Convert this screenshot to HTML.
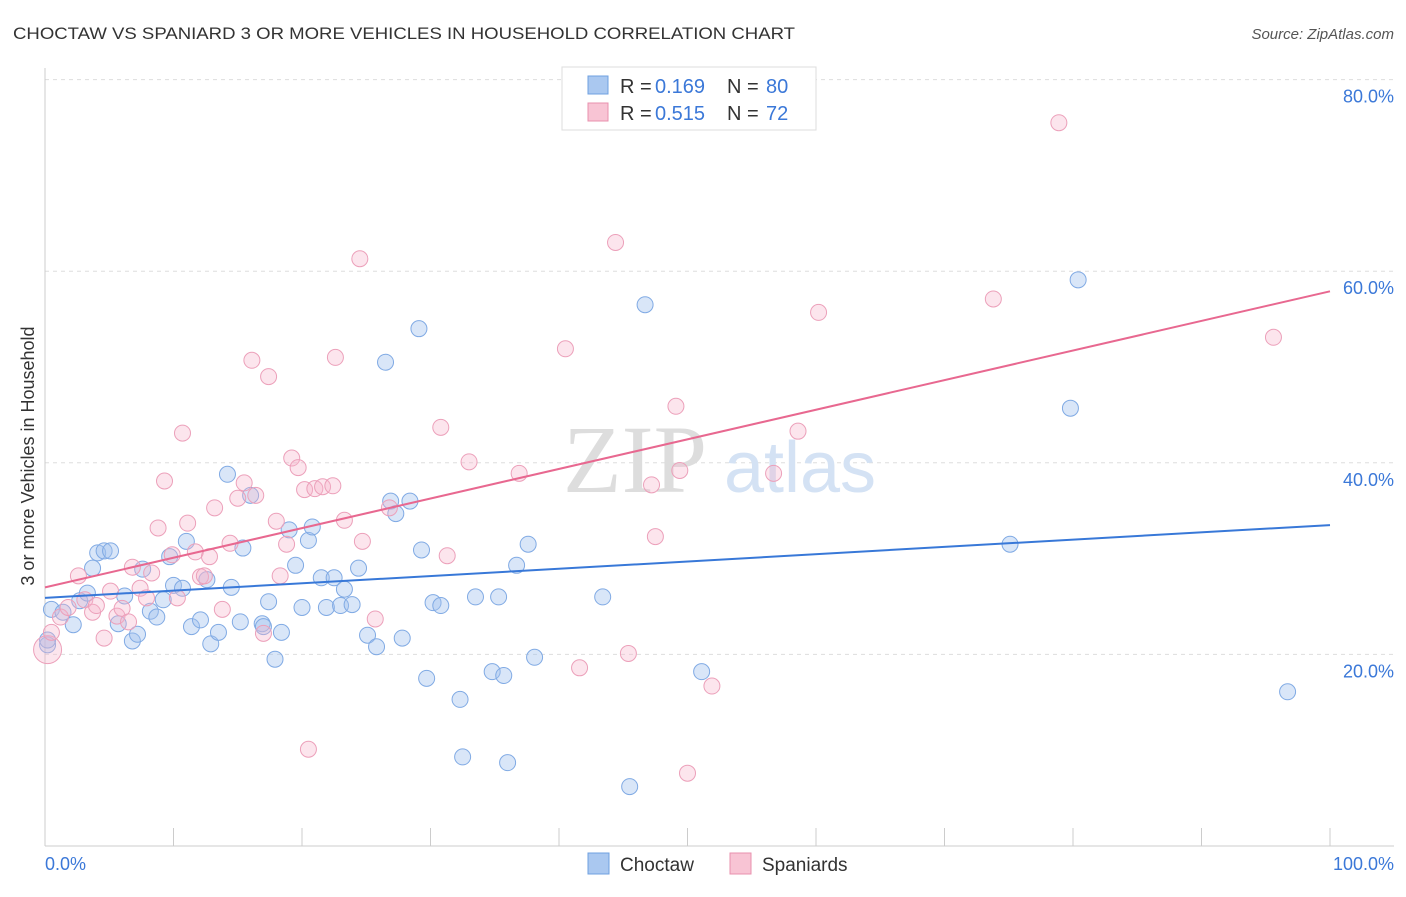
<!DOCTYPE html>
<html><head><meta charset="utf-8"><style>
body{margin:0;background:#fff;font-family:"Liberation Sans",sans-serif}
</style></head><body>
<svg width="1406" height="892" xmlns="http://www.w3.org/2000/svg">
<text x="13" y="39" font-size="17" fill="#333" textLength="782" lengthAdjust="spacingAndGlyphs">CHOCTAW VS SPANIARD 3 OR MORE VEHICLES IN HOUSEHOLD CORRELATION CHART</text>
<text x="1394" y="39" font-size="15" fill="#555" text-anchor="end" font-style="italic">Source: ZipAtlas.com</text>
<g id="grid"></g>
<text x="635" y="492" font-size="96" fill="#ddd" font-family="Liberation Serif" text-anchor="middle">ZIP</text>
<text x="800" y="492" font-size="72" fill="#d4e2f4" text-anchor="middle">atlas</text>
<g id="pts"></g>
<g id="lines"></g>
<text transform="translate(34,456) rotate(-90)" font-size="18" fill="#333" text-anchor="middle">3 or more Vehicles in Household</text>
<g>
<rect x="562" y="67" width="254" height="63" fill="#fff" stroke="#ddd"/>
<rect x="588" y="76" width="20" height="18" fill="#aac8f0" stroke="#6fa0e0"/>
<rect x="588" y="103" width="20" height="18" fill="#f8c4d4" stroke="#e890ae"/>
<text x="620" y="93" font-size="20" fill="#333">R =</text>
<text x="655" y="93" font-size="20" fill="#3b78d8">0.169</text>
<text x="727" y="93" font-size="20" fill="#333">N =</text>
<text x="766" y="93" font-size="20" fill="#3b78d8">80</text>
<text x="620" y="120" font-size="20" fill="#333">R =</text>
<text x="655" y="120" font-size="20" fill="#3b78d8">0.515</text>
<text x="727" y="120" font-size="20" fill="#333">N =</text>
<text x="766" y="120" font-size="20" fill="#3b78d8">72</text>
</g>
<g>
<rect x="588" y="853" width="21" height="21" fill="#aac8f0" stroke="#6fa0e0"/>
<text x="620" y="871" font-size="19" fill="#333">Choctaw</text>
<rect x="730" y="853" width="21" height="21" fill="#f8c4d4" stroke="#e890ae"/>
<text x="762" y="871" font-size="19" fill="#333">Spaniards</text>
</g>
<text x="45" y="870" font-size="18" fill="#3b78d8">0.0%</text>
<text x="1394" y="870" font-size="18" fill="#3b78d8" text-anchor="end">100.0%</text>
</svg>
<script>
const yTicks=[20,40,60,80];
const yTickLabels=["20.0%","40.0%","60.0%","80.0%"];
const xTicks=[0,10,20,30,40,50,60,70,80,90,100];
const choctawX=[0.5,1.4,2.2,2.7,3.3,3.7,4.1,4.6,5.1,5.7,6.2,6.8,7.2,7.6,8.2,8.7,9.2,9.7,10.0,10.7,11.0,11.4,12.1,12.6,12.9,13.5,14.2,14.5,15.2,15.4,16.0,16.9,17.0,17.4,17.9,18.4,19.0,19.5,20.0,20.5,20.8,21.5,21.9,22.5,23.0,23.3,23.9,24.4,25.1,25.8,26.5,26.9,27.3,27.8,28.4,29.1,29.3,29.7,30.2,30.8,32.3,32.5,33.5,34.8,35.3,35.7,36.0,36.7,37.6,38.1,43.4,45.5,46.7,51.1,75.1,79.8,80.4,96.7,0.2,0.2];
const choctawY=[24.7,24.4,23.1,25.6,26.4,29.0,30.6,30.8,30.8,23.2,26.1,21.4,22.1,28.9,24.5,23.9,25.7,30.2,27.2,26.9,31.8,22.9,23.6,27.8,21.1,22.3,38.8,27.0,23.4,31.1,36.6,23.2,22.9,25.5,19.5,22.3,33.0,29.3,24.9,31.9,33.3,28.0,24.9,28.0,25.1,26.8,25.2,29.0,22.0,20.8,50.5,36.0,34.7,21.7,36.0,54.0,30.9,17.5,25.4,25.1,15.3,9.3,26.0,18.2,26.0,17.8,8.7,29.3,31.5,19.7,26.0,6.2,56.5,18.2,31.5,45.7,59.1,16.1,21.0,21.5];
const spanX=[0.2,0.5,1.2,1.8,2.6,3.1,3.7,4.0,4.6,5.1,5.6,6.0,6.5,6.8,7.4,7.9,8.3,8.8,9.3,9.9,10.3,10.7,11.1,11.7,12.1,12.4,12.8,13.2,13.8,14.4,15.0,15.5,16.1,16.4,17.0,17.4,18.0,18.3,18.8,19.2,19.7,20.2,20.5,21.0,21.6,22.4,22.6,23.3,24.5,24.7,25.7,26.8,30.8,31.3,33.0,36.9,40.5,41.6,44.4,45.4,47.2,47.5,49.1,49.4,50.0,51.9,56.7,58.6,60.2,73.8,78.9,95.6];
const spanY=[20.5,22.3,23.9,24.9,28.2,25.7,24.4,25.1,21.7,26.6,24.0,24.8,23.4,29.1,26.9,25.9,28.5,33.2,38.1,30.4,25.9,43.1,33.7,30.7,28.1,28.2,30.2,35.3,24.7,31.6,36.3,37.9,50.7,36.6,22.2,49.0,33.9,28.2,31.5,40.5,39.5,37.2,10.1,37.3,37.5,37.6,51.0,34.0,61.3,31.8,23.7,35.3,43.7,30.3,40.1,38.9,51.9,18.6,63.0,20.1,37.7,32.3,45.9,39.2,7.6,16.7,38.9,43.3,55.7,57.1,75.5,53.1];
const choctawTrend=[25.9,33.5];
const spanTrend=[27.0,57.9];
const NS="http://www.w3.org/2000/svg";
const X=v=>45+v*12.85, Y=v=>846-v*9.58;
function mk(t,a,p){const e=document.createElementNS(NS,t);for(const k in a)e.setAttribute(k,a[k]);p.appendChild(e);return e;}
const grid=document.getElementById('grid');
yTicks.forEach((t,i)=>{
 const l=mk('line',{x1:45,x2:1394,y1:Y(t),y2:Y(t),stroke:'#ddd','stroke-dasharray':'4,4'},grid);
 
 
 const tx=mk('text',{x:1394,y:Y(t)+23,'font-size':18,fill:'#3b78d8','text-anchor':'end'},grid);
 tx.textContent=yTickLabels[i];
 
 
});
mk('line',{x1:45,x2:45,y1:68,y2:846,stroke:'#ccc'},grid);
mk('line',{x1:45,x2:1394,y1:846,y2:846,stroke:'#ccc'},grid);
xTicks.forEach(t=>{const l=mk('line',{x1:X(t),x2:X(t),y1:846,y2:828,stroke:'#ccc'},grid);
 
 });
const pts=document.getElementById('pts');
choctawX.forEach((x,i)=>{const c=mk('circle',{cx:X(x),cy:Y(choctawY[i]),r:8,fill:'rgba(160,192,238,0.4)',stroke:'#80aae4','stroke-width':1},pts);
 
 });
spanX.forEach((x,i)=>{const c=mk('circle',{cx:X(x),cy:Y(spanY[i]),r:i==0?14:8,fill:'rgba(245,180,204,0.35)',stroke:'#eca0ba','stroke-width':1},pts);
 
 });
const lines=document.getElementById('lines');
const l1=mk('line',{x1:X(0),y1:Y(choctawTrend[0]),x2:X(100),y2:Y(choctawTrend[1]),stroke:'#3878d8','stroke-width':2},lines);


const l2=mk('line',{x1:X(0),y1:Y(spanTrend[0]),x2:X(100),y2:Y(spanTrend[1]),stroke:'#e86890','stroke-width':2},lines);


</script>
</body></html>
